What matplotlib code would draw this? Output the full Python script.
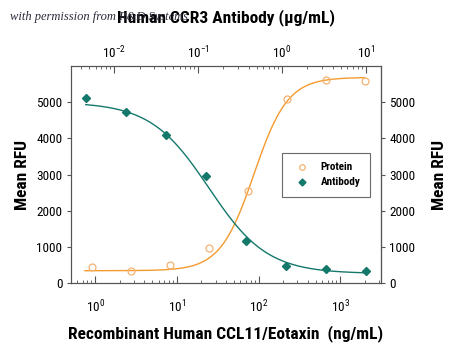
import matplotlib

matplotlib.use("Agg")
import matplotlib.pyplot as plt
import numpy as np
from matplotlib import font_manager

# pick a narrow sans face if one is installed
_fonts = font_manager.fontManager.ttflist
_names = {f.name for f in _fonts}
_narrow = [f.name for f in _fonts
           if f.stretch in ("condensed", "semi-condensed", "extra-condensed")
           or "Narrow" in f.name or "Condensed" in f.name]
FAMILY = "Liberation Sans"
for cand in ["Liberation Sans Narrow", "Roboto Condensed", "Noto Sans Condensed",
             "Open Sans Condensed", "DejaVu Sans Condensed"] + sorted(set(_narrow)):
    if cand in _names:
        FAMILY = cand
        break

plt.rcParams["font.family"] = [FAMILY, "DejaVu Sans"]
if FAMILY == "Liberation Sans":
    plt.rcParams["font.stretch"] = "condensed"
plt.rcParams["mathtext.fontset"] = "custom"
plt.rcParams["mathtext.rm"] = FAMILY
plt.rcParams["mathtext.it"] = FAMILY + ":italic"
plt.rcParams["mathtext.bf"] = FAMILY + ":bold"

# CCL11 protein dose (ng/mL) and response
protein_conc = [0.914, 2.74, 8.23, 24.7, 74.1, 222, 667, 2000]
protein_rfu = [450, 340, 490, 965, 2530, 5075, 5615, 5590]

# anti-CCR3 antibody dose (ug/mL) and response
antibody_conc = [0.00457, 0.0137, 0.0412, 0.123, 0.370, 1.11, 3.33, 10.0]
antibody_rfu = [5120, 4730, 4100, 2955, 1150, 460, 378, 340]

# 4-parameter logistic fits: bottom, top, EC50, Hill slope
protein_fit = (340, 5685, 88.0, 2.1)
antibody_fit = (260, 5000, 0.134, -1.25)

ORANGE = "#F39B2E"
ORANGE_PT = "#F4B271"
TEAL = "#14786B"
GREY = "#555555"


def logistic(x, bottom, top, ec50, hill):
    return bottom + (top - bottom) / (1 + (ec50 / x) ** hill)


fig = plt.figure(figsize=(4.5, 3.48), dpi=100)
ax = fig.add_axes([70.7 / 450, 65 / 348, 310.3 / 450, 217 / 348])
ax_top = ax.twiny()

# protein on the bottom axis
ax.set_xscale("log")
ax.set_xlim(10 ** -0.3, 10 ** 3.5)
ax.set_ylim(0, 6000)
xs = np.logspace(np.log10(0.75), np.log10(protein_conc[-1]), 300)
ax.plot(xs, logistic(xs, *protein_fit), color=ORANGE, lw=1.0, zorder=2)
ax.plot(protein_conc, protein_rfu, ls="none", marker="o", ms=5, mfc="none",
        mec=ORANGE_PT, mew=0.9, zorder=3, label="Protein")

# antibody on the top axis
ax_top.set_xscale("log")
ax_top.set_xlim(10 ** -2.52, 10 ** 1.18)
xa = np.logspace(np.log10(antibody_conc[0]), np.log10(antibody_conc[-1]), 300)
ax_top.plot(xa, logistic(xa, *antibody_fit), color=TEAL, lw=1.0, zorder=2)
ax_top.plot(antibody_conc, antibody_rfu, ls="none", marker="D", ms=4.4,
            color=TEAL, zorder=3, label="Antibody")

ax.set_yticks([0, 1000, 2000, 3000, 4000, 5000])
ax.tick_params(axis="y", which="both", direction="out", length=3, width=0.8,
               color=GREY, labelsize=9.5, pad=3)
ax.tick_params(axis="x", which="major", direction="in", length=5, width=0.8,
               color=GREY, labelsize=9.5, pad=11.5)
ax.tick_params(axis="x", which="minor", direction="in", length=2.5, width=0.6,
               color=GREY)
ax_top.tick_params(axis="x", which="major", direction="in", length=5, width=0.8,
                   color=GREY, labelsize=9.5, pad=3.5)
ax_top.tick_params(axis="x", which="minor", direction="in", length=2.5,
                   width=0.6, color=GREY)

for a in (ax, ax_top):
    for sp in a.spines.values():
        sp.set_color(GREY)
        sp.set_linewidth(0.8)

right = ax.secondary_yaxis("right")
right.set_yticks([0, 1000, 2000, 3000, 4000, 5000])
right.tick_params(direction="out", length=3, width=0.8, color=GREY,
                  labelsize=9.5, pad=3)
right.spines["right"].set_color(GREY)
right.spines["right"].set_linewidth(0.8)

label_kw = dict(fontsize=12.5, fontweight="bold")
ax.set_ylabel("Mean RFU", labelpad=4.5, **label_kw)
right.set_ylabel("Mean RFU", labelpad=12, **label_kw)
ax.set_xlabel("Recombinant Human CCL11/Eotaxin  (ng/mL)", labelpad=7,
              **label_kw)
ax_top.set_xlabel("Human CCR3 Antibody (\u00b5g/mL)", labelpad=16, **label_kw)

handles = ax.get_legend_handles_labels()[0] + ax_top.get_legend_handles_labels()[0]
leg = ax_top.legend(handles=handles, loc="upper left",
                    bbox_to_anchor=(0.682, 0.599), borderaxespad=0,
                    fancybox=False, edgecolor="#444444", borderpad=0.85,
                    labelspacing=0.45, handlelength=1.8, handletextpad=0.8,
                    markerscale=0.8, prop={"weight": "bold", "size": 8})
leg.get_frame().set_linewidth(0.8)

fig.text(10 / 450, 1 - 17 / 348, "with permission from R&D Systems",
         family="Liberation Serif", style="italic", fontsize=9,
         color="#2c2c3c", va="center", ha="left", zorder=0)

fig.savefig("out.png", dpi=100)
